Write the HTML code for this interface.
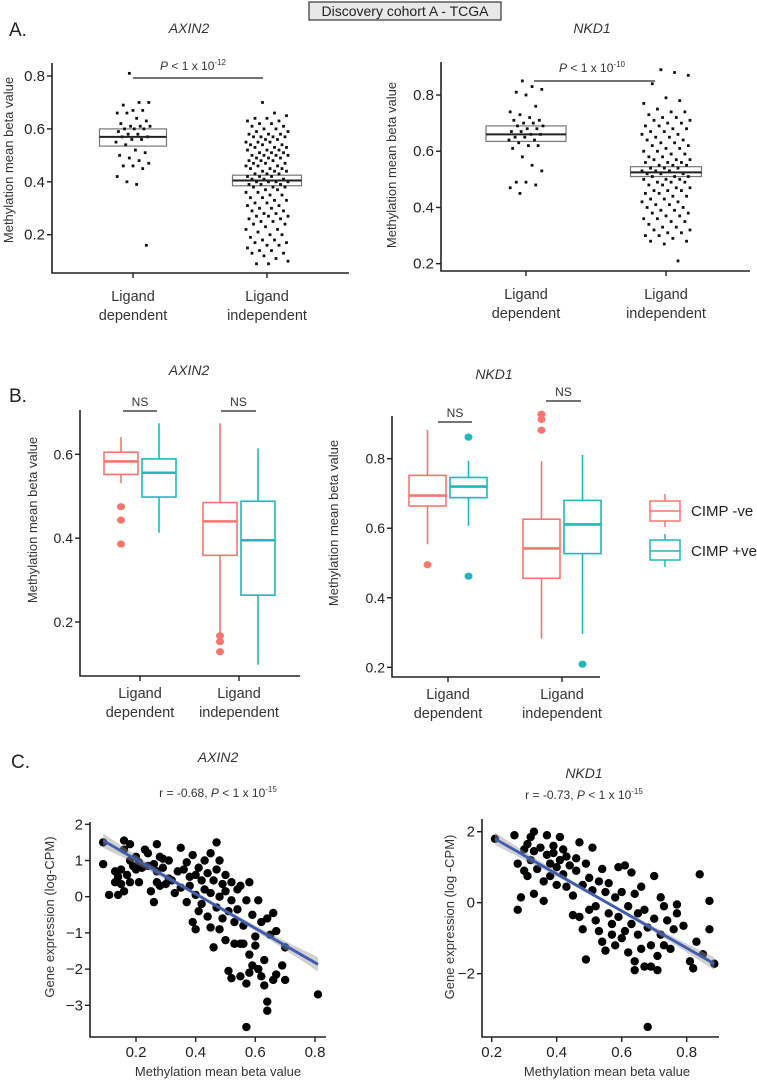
<!DOCTYPE html>
<html><head><meta charset="utf-8"><style>
html,body{margin:0;padding:0;background:#fff}
svg{display:block;font-family:"Liberation Sans",Arial,sans-serif}
.t{font-size:15px;fill:#222}
.ax{font-size:13px;fill:#333}
.tt{font-size:14px;font-style:italic;fill:#333}
.cat{font-size:14.5px;fill:#333;text-anchor:middle}
</style></head><body>
<svg id="fig" width="757" height="1082" viewBox="0 0 757 1082">
<g>
<rect x="309" y="2" width="192" height="18" fill="#e8e8e8" stroke="#333" stroke-width="1.2"/>
<text x="405" y="16" text-anchor="middle" style="font-size:14px" fill="#222">Discovery cohort A - TCGA</text></g>
<text x="9" y="36" style="font-size:19px" fill="#222">A.</text>
<text x="9" y="402" style="font-size:19px" fill="#222">B.</text>
<text x="11" y="768" style="font-size:19px" fill="#222">C.</text>

<text class="tt" x="189" y="33" text-anchor="middle">AXIN2</text>
<text class="tt" x="592" y="33" text-anchor="middle">NKD1</text>
<text class="tt" x="189" y="375" text-anchor="middle">AXIN2</text>
<text class="tt" x="494" y="379" text-anchor="middle">NKD1</text>
<text class="tt" x="218" y="762" text-anchor="middle">AXIN2</text>
<text class="tt" x="584" y="778" text-anchor="middle">NKD1</text>
<text x="218" y="797" text-anchor="middle" style="font-size:12px" fill="#333">r = -0.68, <tspan font-style="italic">P</tspan> &lt; 1 x 10<tspan dy="-5" style="font-size:8px">-15</tspan></text>
<text x="584" y="799" text-anchor="middle" style="font-size:12px" fill="#333">r = -0.73, <tspan font-style="italic">P</tspan> &lt; 1 x 10<tspan dy="-5" style="font-size:8px">-15</tspan></text>
<text x="193" y="70" text-anchor="middle" style="font-size:12px" fill="#333"><tspan font-style="italic">P</tspan> &lt; 1 x 10<tspan dy="-5" style="font-size:8px">-12</tspan></text>
<text x="592" y="72" text-anchor="middle" style="font-size:12px" fill="#333"><tspan font-style="italic">P</tspan> &lt; 1 x 10<tspan dy="-5" style="font-size:8px">-10</tspan></text>

<text class="ax" transform="translate(13,160) rotate(-90)" text-anchor="middle">Methylation mean beta value</text>
<text class="ax" transform="translate(396,165) rotate(-90)" text-anchor="middle">Methylation mean beta value</text>
<text class="ax" transform="translate(37,520) rotate(-90)" text-anchor="middle">Methylation mean beta value</text>
<text class="ax" transform="translate(338,523) rotate(-90)" text-anchor="middle">Methylation mean beta value</text>
<text class="ax" transform="translate(54,917) rotate(-90)" text-anchor="middle">Gene expression (log-CPM)</text>
<text class="ax" transform="translate(454,917) rotate(-90)" text-anchor="middle">Gene expression (log -CPM)</text>
<text class="ax" x="218" y="1076" text-anchor="middle">Methylation mean beta value</text>
<text class="ax" x="607" y="1076" text-anchor="middle">Methylation mean beta value</text>

<g>
<line x1="665" y1="494" x2="665" y2="527" stroke="#F8766D" stroke-width="1.5"/>
<rect x="650" y="501" width="30" height="20" fill="#fff" stroke="#F8766D" stroke-width="1.5"/>
<line x1="650" y1="511" x2="680" y2="511" stroke="#F8766D" stroke-width="1.5"/>
<text x="691" y="516" style="font-size:15px" fill="#222">CIMP -ve</text>
<line x1="665" y1="534" x2="665" y2="567" stroke="#1EB8BE" stroke-width="1.5"/>
<rect x="650" y="540" width="30" height="20" fill="#fff" stroke="#1EB8BE" stroke-width="1.5"/>
<line x1="650" y1="551" x2="680" y2="551" stroke="#1EB8BE" stroke-width="1.5"/>
<text x="691" y="556" style="font-size:15px" fill="#222">CIMP +ve</text>
</g>
<g id="marks"></g>
</svg>
<script>
// ---- Panel A data ----
const aCats = ["Ligand|dependent","Ligand|independent"];
const aTicks = [0.2,0.4,0.6,0.8];
const aAxinDep = [0.81,0.70,0.70,0.69,0.67,0.67,0.66,0.66,0.64,0.63,0.62,0.61,0.61,0.61,0.60,0.60,0.60,0.59,0.58,0.58,0.57,0.57,0.56,0.56,0.55,0.54,0.52,0.51,0.50,0.49,0.48,0.47,0.46,0.46,0.45,0.42,0.40,0.39,0.16];
const aAxinInd = [0.70,0.66,0.65,0.64,0.64,0.63,0.63,0.62,0.62,0.61,0.61,0.60,0.60,0.59,0.59,0.58,0.58,0.58,0.57,0.57,0.57,0.57,0.56,0.56,0.55,0.55,0.55,0.54,0.54,0.54,0.53,0.53,0.53,0.52,0.52,0.52,0.51,0.51,0.51,0.50,0.50,0.50,0.50,0.49,0.49,0.49,0.48,0.48,0.48,0.47,0.47,0.47,0.46,0.46,0.46,0.45,0.45,0.45,0.44,0.44,0.44,0.43,0.43,0.43,0.42,0.42,0.42,0.41,0.41,0.41,0.40,0.40,0.40,0.40,0.39,0.39,0.39,0.38,0.38,0.38,0.37,0.37,0.36,0.36,0.35,0.35,0.34,0.34,0.33,0.33,0.32,0.32,0.31,0.31,0.30,0.30,0.29,0.29,0.28,0.28,0.27,0.27,0.27,0.26,0.26,0.25,0.25,0.24,0.24,0.23,0.22,0.22,0.21,0.20,0.20,0.19,0.18,0.18,0.17,0.17,0.16,0.16,0.15,0.14,0.14,0.13,0.13,0.12,0.11,0.10,0.09,0.09];
const aAxinBox = [[0.535,0.57,0.60],[0.385,0.405,0.425]];
const aNkdDep = [0.85,0.83,0.82,0.81,0.80,0.76,0.74,0.73,0.72,0.71,0.71,0.70,0.70,0.69,0.69,0.68,0.68,0.67,0.67,0.66,0.66,0.65,0.65,0.64,0.64,0.63,0.62,0.62,0.61,0.58,0.55,0.53,0.49,0.49,0.48,0.47,0.45];
const aNkdInd = [0.89,0.88,0.87,0.84,0.79,0.78,0.77,0.75,0.74,0.74,0.73,0.72,0.72,0.71,0.71,0.70,0.70,0.69,0.69,0.68,0.68,0.67,0.67,0.66,0.66,0.65,0.65,0.64,0.64,0.63,0.63,0.62,0.62,0.61,0.61,0.60,0.60,0.59,0.59,0.58,0.58,0.57,0.57,0.57,0.56,0.56,0.56,0.55,0.55,0.55,0.54,0.54,0.54,0.53,0.53,0.53,0.52,0.52,0.52,0.51,0.51,0.51,0.50,0.50,0.50,0.49,0.49,0.49,0.48,0.48,0.47,0.47,0.46,0.46,0.46,0.45,0.45,0.44,0.44,0.43,0.43,0.42,0.42,0.41,0.41,0.40,0.40,0.39,0.39,0.38,0.38,0.37,0.37,0.36,0.36,0.35,0.35,0.34,0.33,0.33,0.32,0.32,0.31,0.31,0.30,0.30,0.29,0.28,0.28,0.27,0.21];
const aNkdBox = [[0.635,0.66,0.69],[0.51,0.525,0.545]];
// ---- Panel B data: [whiskerLow, q1, median, q3, whiskerHigh] ----
const bTicksAxin = [0.2,0.4,0.6];
const bTicksNkd = [0.2,0.4,0.6,0.8];
const bAxinNeg = [[0.531,0.552,0.583,0.605,0.641],[0.174,0.359,0.44,0.485,0.674]];
const bAxinPos = [[0.413,0.498,0.556,0.589,0.674],[0.098,0.264,0.395,0.488,0.614]];
const bAxinNegOut = [[0.475,0.443,0.386],[0.167,0.153,0.129]];
const bAxinPosOut = [[],[]];
const bNkdNeg = [[0.554,0.664,0.694,0.752,0.883],[0.282,0.456,0.542,0.626,0.793]];
const bNkdPos = [[0.607,0.688,0.72,0.746,0.794],[0.296,0.527,0.611,0.68,0.811]];
const bNkdNegOut = [[0.495],[0.928,0.913,0.882]];
const bNkdPosOut = [[0.862,0.462],[0.209]];
// ---- Panel C data ----
const cXTicks = [0.2,0.4,0.6,0.8];
const cAxinYTicks = [-3,-2,-1,0,1,2];
const cNkdYTicks = [-2,0,2];
const cAxinX = [0.09,0.09,0.11,0.13,0.13,0.14,0.14,0.15,0.15,0.16,0.16,0.16,0.17,0.18,0.18,0.18,0.19,0.2,0.2,0.21,0.21,0.22,0.23,0.24,0.24,0.25,0.26,0.26,0.27,0.27,0.27,0.28,0.28,0.29,0.29,0.3,0.31,0.31,0.32,0.33,0.34,0.35,0.35,0.36,0.37,0.37,0.38,0.38,0.39,0.39,0.4,0.4,0.4,0.41,0.41,0.42,0.42,0.43,0.43,0.44,0.44,0.45,0.45,0.45,0.46,0.46,0.47,0.47,0.47,0.48,0.48,0.48,0.49,0.49,0.5,0.5,0.5,0.51,0.51,0.52,0.52,0.52,0.53,0.53,0.54,0.54,0.55,0.55,0.55,0.56,0.56,0.57,0.57,0.57,0.58,0.58,0.58,0.59,0.59,0.6,0.6,0.61,0.61,0.62,0.62,0.63,0.63,0.64,0.64,0.64,0.65,0.66,0.66,0.67,0.67,0.69,0.7,0.7,0.81];
const cAxinY = [1.5,0.9,0.05,0.4,0.7,0.05,0.55,0.35,0.75,1.55,0.15,1.3,0.6,1.45,1.0,0.4,0.85,1.1,0.75,0.4,0.95,0.8,1.3,1.2,0.85,0.15,-0.15,0.9,1.45,0.7,0.4,1.1,0.3,0.8,1.05,0.35,1.0,0.5,0.45,0.1,0.7,1.35,0.25,0.75,0.95,-0.15,0.55,0.3,1.15,-0.7,-0.9,0.6,0.05,-0.4,0.8,0.45,-0.2,0.2,1.0,-0.55,0.65,1.2,0.1,-0.85,-1.4,0.45,0.75,-0.3,1.5,0.0,-0.9,1.0,0.35,-0.6,-1.2,0.15,0.6,-0.4,-2.05,0.4,-2.25,-0.1,-1.3,-0.7,0.2,-0.35,-1.3,0.3,-2.2,-0.8,-1.3,-2.4,-3.6,-0.1,-1.6,-2.1,0.4,-1.9,-0.5,-1.1,-1.35,-2.0,-0.1,-2.2,-0.7,-1.75,-2.45,-2.9,-3.15,-0.6,-1.05,-2.3,-0.45,-2.15,-0.95,-1.9,-2.3,-1.4,-2.7];
const cAxinFit = [[0.09,1.55],[0.81,-1.87]];
const cNkdX = [0.21,0.27,0.28,0.28,0.29,0.3,0.3,0.31,0.31,0.32,0.32,0.33,0.33,0.33,0.34,0.35,0.36,0.36,0.37,0.37,0.38,0.38,0.39,0.39,0.4,0.4,0.41,0.41,0.42,0.42,0.43,0.43,0.44,0.45,0.45,0.46,0.46,0.47,0.47,0.48,0.48,0.49,0.49,0.5,0.5,0.51,0.51,0.52,0.52,0.53,0.53,0.54,0.54,0.55,0.55,0.56,0.56,0.57,0.57,0.58,0.58,0.59,0.59,0.6,0.6,0.61,0.61,0.62,0.62,0.63,0.63,0.64,0.64,0.64,0.65,0.65,0.66,0.66,0.67,0.67,0.68,0.68,0.69,0.69,0.7,0.7,0.71,0.71,0.72,0.72,0.73,0.73,0.74,0.75,0.76,0.77,0.77,0.79,0.81,0.82,0.83,0.84,0.85,0.87,0.87,0.885];
const cNkdY = [1.8,1.9,1.1,-0.2,0.15,1.5,0.9,1.65,0.75,1.85,1.2,2.0,0.25,1.45,0.95,1.55,0.05,0.6,1.35,1.9,1.1,0.75,1.6,1.4,1.0,0.5,1.85,1.2,0.8,1.5,0.45,1.3,1.05,-0.35,0.2,1.25,0.9,1.7,-0.4,0.5,-0.75,1.1,-1.6,-0.2,0.7,1.55,0.35,-0.5,-0.1,0.6,-0.8,0.95,-1.1,0.3,-1.35,-0.3,0.55,-0.6,-0.9,0.15,-1.2,1.0,-0.4,-1.0,0.3,1.05,-0.8,-0.1,-1.4,0.85,-0.6,-1.9,-1.65,0.25,-0.3,-0.9,0.45,-1.3,-1.8,-0.2,-3.5,-0.7,-1.2,-1.8,0.75,-0.45,-1.5,-1.9,0.15,-0.9,-1.2,-0.1,-0.5,-1.3,-0.75,-0.05,-0.3,-0.65,-1.65,-1.85,-1.1,0.8,-1.45,0.05,-0.75,-1.72];
const cNkdFit = [[0.21,1.8],[0.885,-1.72]];

const NS="http://www.w3.org/2000/svg";
const root=document.getElementById('marks');
function mk(tag,attrs,parent){const e=document.createElementNS(NS,tag);for(const k in attrs)e.setAttribute(k,attrs[k]);(parent||root).appendChild(e);return e;}
function lin(d0,d1,r0,r1){return v=>r0+(v-d0)*(r1-r0)/(d1-d0);}
function fmt(v){return (Math.abs(v)<1e-9?0:v).toString().replace('-','\u2212');}

function axes(g,x0,y0,y1,x1,yScale,ticks,fs,labelFmt){
  const a=mk('path',{d:`M${x0},${y0}V${y1}H${x1}`,fill:'none',stroke:'#222','stroke-width':1.6},g);
  
  
  ticks.forEach(t=>{const y=yScale(t);
    const tk=mk('line',{x1:x0-5,x2:x0,y1:y,y2:y,stroke:'#222','stroke-width':1.4},g);
    
    
    const tx=mk('text',{x:x0-7,y:y+5,'text-anchor':'end',style:`font-size:${fs}px`,fill:'#222'},g);
    
    
    tx.textContent=labelFmt(t);});
}
function catLabels(g,xs,y1,yLab){
  aCats.forEach((c,i)=>{
    const tk=mk('line',{x1:xs[i],x2:xs[i],y1:y1,y2:y1+5,stroke:'#222','stroke-width':1.4},g);
    
    
    const p=c.split('|');
    const t=mk('text',{class:'cat',x:xs[i],y:yLab},g);t.textContent=p[0];
    
    
    const t2=mk('text',{class:'cat',x:xs[i],y:yLab+19},g);t2.textContent=p[1];
    
    
  });
}
// ---- Panel A ----
function panelA(name,x0,y0,y1,x1,ys,xs,dep,ind,box,boxW,jit,pbar){
  const g=mk('g',{});
  
  
  axes(g,x0,y0,y1,x1,ys,aTicks,15,v=>v.toFixed(1));
  catLabels(g,xs,y1,y1+28);
  box.forEach((b,i)=>{
    const r=mk('rect',{x:xs[i]-boxW[i]/2,y:ys(b[2]),width:boxW[i],height:ys(b[0])-ys(b[2]),fill:'#fff','fill-opacity':0.5,stroke:'#777','stroke-width':1.2},g);
    
    
  });
  [dep,ind].forEach((arr,i)=>arr.forEach((v,k)=>{
    const off=(((k*37+11)%29)/28-0.5)*2*jit[i];
    const d=mk('rect',{x:xs[i]+off-1.4,y:ys(v)-1.4,width:2.8,height:2.8,fill:'#111'},g);
    
    
  }));
  box.forEach((b,i)=>{
    const m=mk('line',{x1:xs[i]-boxW[i]/2,x2:xs[i]+boxW[i]/2,y1:ys(b[1]),y2:ys(b[1]),stroke:'#222','stroke-width':2},g);
    
    
  });
  const pb=mk('line',{x1:pbar[0],x2:pbar[1],y1:pbar[2],y2:pbar[2],stroke:'#222','stroke-width':1.3},g);
  
  
}
panelA('a-axin2-plot',52,63,273,349,lin(0.8,0.2,76,234.7),[133,267],aAxinDep,aAxinInd,aAxinBox,[67,69],[17,21],[133,263,78]);
panelA('a-nkd1-plot',441,62,271,750,lin(0.8,0.2,95,263.7),[526,666],aNkdDep,aNkdInd,aNkdBox,[80,71],[17,24],[534,655,81]);

// ---- Panel B ----
function boxB(g,cx,w,s,ys,col,outs){
  const wl=mk('line',{x1:cx,x2:cx,y1:ys(s[0]),y2:ys(s[4]),stroke:col,'stroke-width':1.6},g);
  
  
  const r=mk('rect',{x:cx-w/2,y:ys(s[3]),width:w,height:ys(s[1])-ys(s[3]),fill:'#fff',stroke:col,'stroke-width':1.6},g);
  
  
  const m=mk('line',{x1:cx-w/2,x2:cx+w/2,y1:ys(s[2]),y2:ys(s[2]),stroke:col,'stroke-width':2.6},g);
  
  
  outs.forEach(o=>{const c=mk('ellipse',{cx:cx,cy:ys(o),rx:4,ry:3.6,fill:col},g);
    
    });
}
function panelB(name,x0,y0,y1,x1,ys,ticks,xs,neg,pos,negO,posO,w,ns){
  const g=mk('g',{});
  
  
  axes(g,x0,y0,y1,x1,ys,ticks,14,v=>v.toFixed(1));
  catLabels(g,xs,y1,y1+22);
  xs.forEach((cx,i)=>{
    boxB(g,cx-w/2-2,w,neg[i],ys,'#F8766D',negO[i]);
    boxB(g,cx+w/2+2,w,pos[i],ys,'#1EB8BE',posO[i]);
    const l=mk('line',{x1:ns[i][0],x2:ns[i][1],y1:ns[i][2],y2:ns[i][2],stroke:'#222','stroke-width':1.3},g);
    
    
    const t=mk('text',{x:(ns[i][0]+ns[i][1])/2,y:ns[i][2]-5,'text-anchor':'middle',style:'font-size:12px',fill:'#333'},g);
    
    
    t.textContent='NS';
  });
}
panelB('b-axin2-plot',80,410,676,300,lin(0.6,0.2,454.3,622),bTicksAxin,[140,239],bAxinNeg,bAxinPos,bAxinNegOut,bAxinPosOut,34,[[123,157,411],[221,256,411]]);
panelB('b-nkd1-plot',392,416,677,600,lin(0.8,0.2,458.7,667.3),bTicksNkd,[448,562],bNkdNeg,bNkdPos,bNkdNegOut,bNkdPosOut,37,[[438,472,422],[546,581,401]]);

// ---- Panel C ----
function panelC(name,x0,y0,y1,x1,xs,ys,yt,X,Y,fit,band){
  const g=mk('g',{});
  
  
  axes(g,x0,y0,y1,x1,ys,yt,15,fmt);
  cXTicks.forEach(t=>{
    const tk=mk('line',{x1:xs(t),x2:xs(t),y1:y1,y2:y1+5,stroke:'#222','stroke-width':1.4},g);
    
    
    const tx=mk('text',{x:xs(t),y:y1+20,'text-anchor':'middle',style:'font-size:15px',fill:'#222'},g);
    
    
    tx.textContent=t.toFixed(1);
  });
  X.forEach((x,i)=>{const c=mk('circle',{cx:xs(x),cy:ys(Y[i]),r:4.2,fill:'#000'},g);
    
    });
  const [p0,p1]=fit, mx=(p0[0]+p1[0])/2, hw=(p1[0]-p0[0])/2;
  const fy=x=>p0[1]+(x-p0[0])*(p1[1]-p0[1])/(p1[0]-p0[0]);
  const up=[],dn=[];
  for(let k=0;k<=20;k++){const x=p0[0]+(p1[0]-p0[0])*k/20;const e=band[0]+band[1]*((x-mx)/hw)**2;
    up.push(`${xs(x)},${ys(fy(x)+e)}`);dn.unshift(`${xs(x)},${ys(fy(x)-e)}`);}
  const b=mk('polygon',{points:up.concat(dn).join(' '),fill:'#9a9a9a','fill-opacity':0.45},g);
  
  
  const l=mk('line',{x1:xs(p0[0]),y1:ys(p0[1]),x2:xs(p1[0]),y2:ys(p1[1]),stroke:'#3F5DB0','stroke-width':2.8},g);
  
  
}
panelC('c-axin2-plot',90,822,1037,326,lin(0.2,0.8,136,315),lin(0,2,896.7,824.3),cAxinYTicks,cAxinX,cAxinY,cAxinFit,[0.05,0.15]);
panelC('c-nkd1-plot',482,819,1037,719,lin(0.2,0.8,491.7,686.7),lin(0,2,902.7,831.7),cNkdYTicks,cNkdX,cNkdY,cNkdFit,[0.05,0.13]);
</script>
</body></html>
